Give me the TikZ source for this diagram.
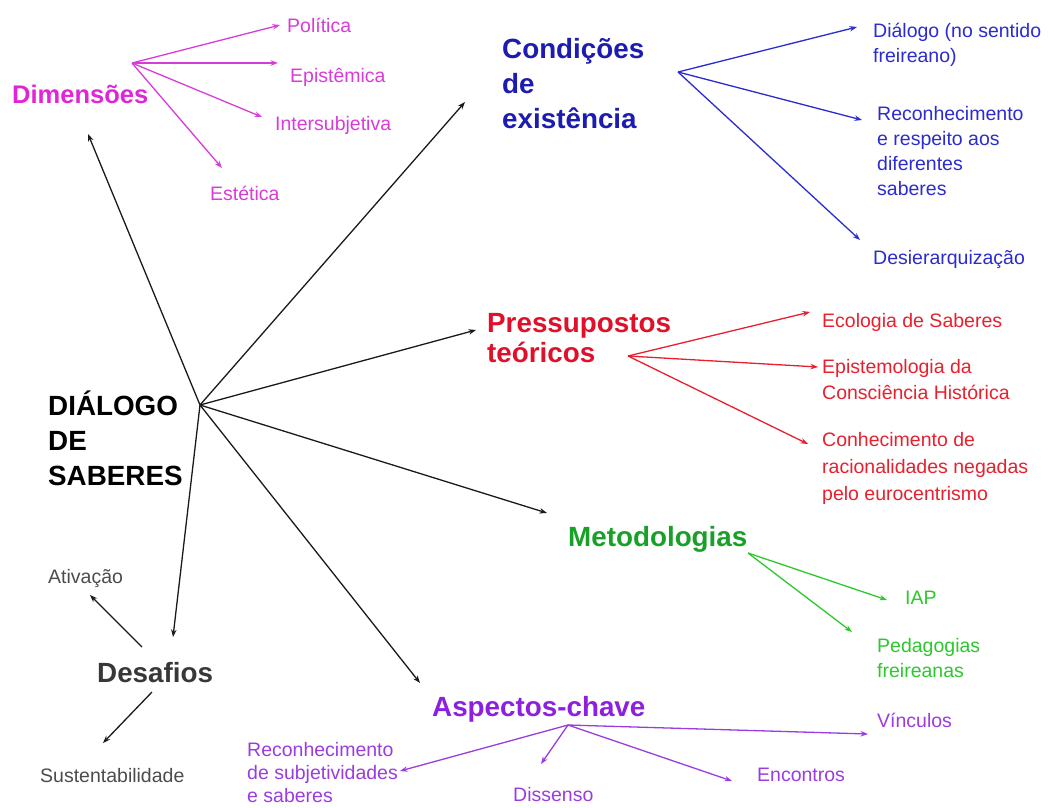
\documentclass[tikz,border=0pt]{standalone}
\usepackage{fontspec}
\setmainfont{Liberation Sans}
\usetikzlibrary{arrows.meta}

\definecolor{magHead}{HTML}{E024D8}
\definecolor{magItem}{HTML}{D83CD8}
\definecolor{blueHead}{HTML}{1C1CB0}
\definecolor{blueItem}{HTML}{2B2BD0}
\definecolor{redHead}{HTML}{E0102A}
\definecolor{redItem}{HTML}{E8202E}
\definecolor{greenHead}{HTML}{18A028}
\definecolor{greenItem}{HTML}{2CC82C}
\definecolor{purpHead}{HTML}{8C1FE0}
\definecolor{purpItem}{HTML}{9A3CE0}
\definecolor{greyHead}{HTML}{383838}
\definecolor{greyItem}{HTML}{4C4C4C}
\definecolor{inkBlack}{HTML}{1A1A1A}

% multi-line nodes sit on the baseline of their last line
\tikzset{
  head/.style={anchor=base west, inner sep=0pt, align=left,
    font=\fontsize{27.8}{35}\selectfont\bfseries},
  item/.style={anchor=base west, inner sep=0pt, align=left,
    font=\fontsize{19.5}{25.5}\selectfont},
  link/.style={line width=1.3pt, -{Stealth[length=7.5pt,width=5.5pt]}},
}

\begin{document}
\begin{tikzpicture}[x=1pt,y=-1pt]
\useasboundingbox (0,0) rectangle (1055,807);

% ---------- central topic ----------
\node[head, text=black] (dialogo) at (48,485) {DIÁLOGO\\DE\\SABERES};
\coordinate (hub) at (200,405);

% ---------- Dimensões ----------
\node[head, text=magHead, font=\fontsize{25.5}{30}\selectfont\bfseries] (dim) at (12,103) {Dimensões};
\node[item, text=magItem] (politica) at (287,32) {Política};
\node[item, text=magItem] (epistemica) at (290,82) {Epistêmica};
\node[item, text=magItem] (intersub) at (275,130) {Intersubjetiva};
\node[item, text=magItem] (estetica) at (210,200) {Estética};
\coordinate (hubDim) at (132,63);
\coordinate (tPolitica) at (280,25);
\coordinate (tEpistemica) at (278,63);
\coordinate (tIntersub) at (262,117);
\coordinate (tEstetica) at (222,168);
\begin{scope}[magItem]
  \draw[link] (hubDim) -- (tPolitica);
  \draw[link] (hubDim) -- (tEpistemica);
  \draw[link] (hubDim) -- (tIntersub);
  \draw[link] (hubDim) -- (tEstetica);
\end{scope}

% ---------- Condições de existência ----------
\node[head, text=blueHead] (cond) at (502,128) {Condições\\de\\existência};
\node[item, text=blueItem] (dialF) at (873,62.5) {Diálogo (no sentido\\freireano)};
\node[item, text=blueItem, font=\fontsize{19.5}{25}\selectfont] (reconh) at (877,195) {Reconhecimento\\e respeito aos\\diferentes\\saberes};
\node[item, text=blueItem] (desier) at (873,264) {Desierarquização};
\coordinate (hubCond) at (678,72);
\coordinate (tDialF) at (857,27);
\coordinate (tReconh) at (862,120);
\coordinate (tDesier) at (860,240);
\begin{scope}[blueItem]
  \draw[link] (hubCond) -- (tDialF);
  \draw[link] (hubCond) -- (tReconh);
  \draw[link] (hubCond) -- (tDesier);
\end{scope}

% ---------- Pressupostos teóricos ----------
\node[head, text=redHead, font=\fontsize{27.8}{30}\selectfont\bfseries] (press) at (487,362) {Pressupostos\\teóricos};
\node[item, text=redItem] (ecol) at (822,327) {Ecologia de Saberes};
\node[item, text=redItem, font=\fontsize{19.5}{26.5}\selectfont] (epist) at (822,399.5) {Epistemologia da\\Consciência Histórica};
\node[item, text=redItem, font=\fontsize{19.5}{27}\selectfont] (conhec) at (822,500) {Conhecimento de\\racionalidades negadas\\pelo eurocentrismo};
\coordinate (hubPress) at (628,356);
\coordinate (tEcol) at (810,312);
\coordinate (tEpist) at (818,367);
\coordinate (tConhec) at (808,444);
\begin{scope}[redItem]
  \draw[link] (hubPress) -- (tEcol);
  \draw[link] (hubPress) -- (tEpist);
  \draw[link] (hubPress) -- (tConhec);
\end{scope}

% ---------- Metodologias ----------
\node[head, text=greenHead] (metod) at (568,546) {Metodologias};
\node[item, text=greenItem] (iap) at (905,604) {IAP};
\node[item, text=greenItem] (pedag) at (877,677.5) {Pedagogias\\freireanas};
\coordinate (hubMetod) at (748,553);
\coordinate (tIap) at (887,600);
\coordinate (tPedag) at (852,632);
\begin{scope}[greenItem]
  \draw[link] (hubMetod) -- (tIap);
  \draw[link] (hubMetod) -- (tPedag);
\end{scope}

% ---------- Aspectos-chave ----------
\node[head, text=purpHead] (aspect) at (432,716) {Aspectos-chave};
\node[item, text=purpItem, font=\fontsize{19.5}{23}\selectfont] (reconS) at (247,802) {Reconhecimento\\de subjetividades\\e saberes};
\node[item, text=purpItem] (dissenso) at (513,801) {Dissenso};
\node[item, text=purpItem] (encontros) at (757,781) {Encontros};
\node[item, text=purpItem] (vinculos) at (877,727) {Vínculos};
\coordinate (hubAspect) at (568,725);
\coordinate (tReconS) at (400,771);
\coordinate (tDissenso) at (541,764);
\coordinate (tEncontros) at (732,781);
\coordinate (tVinculos) at (868,734);
\begin{scope}[purpItem]
  \draw[link] (hubAspect) -- (tReconS);
  \draw[link] (hubAspect) -- (tDissenso);
  \draw[link] (hubAspect) -- (tEncontros);
  \draw[link] (hubAspect) -- (tVinculos);
\end{scope}

% ---------- Desafios ----------
\node[head, text=greyHead] (desaf) at (97,682) {Desafios};
\node[item, text=greyItem] (ativ) at (48,583) {Ativação};
\node[item, text=greyItem] (sust) at (40,782) {Sustentabilidade};
\coordinate (sAtiv) at (142,647);
\coordinate (tAtiv) at (90,595);
\coordinate (sSust) at (152,692);
\coordinate (tSust) at (103,743);
\begin{scope}[inkBlack]
  \draw[link] (sAtiv) -- (tAtiv);
  \draw[link] (sSust) -- (tSust);
\end{scope}

% ---------- branches from the central topic ----------
\coordinate (tDim) at (88,134);
\coordinate (tCond) at (465,102);
\coordinate (tPress) at (476,330);
\coordinate (tMetod) at (547,513);
\coordinate (tAspect) at (420,683);
\coordinate (tDesaf) at (173,637);
\begin{scope}[inkBlack]
  \draw[link] (hub) -- (tDim);
  \draw[link] (hub) -- (tCond);
  \draw[link] (hub) -- (tPress);
  \draw[link] (hub) -- (tMetod);
  \draw[link] (hub) -- (tAspect);
  \draw[link] (hub) -- (tDesaf);
\end{scope}
\end{tikzpicture}
\end{document}
